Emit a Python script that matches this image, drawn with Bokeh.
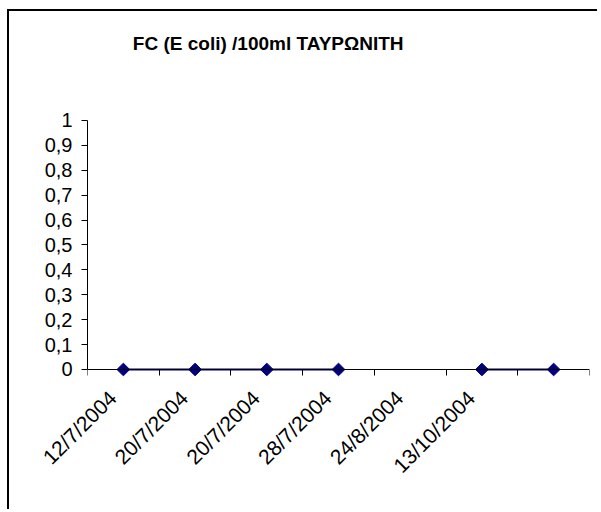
import math
from bokeh.plotting import figure
from bokeh.models import FixedTicker, ColumnDataSource, LinearAxis, Label, InlineStyleSheet
from bokeh.embed import file_html
from bokeh.resources import INLINE

# ---- data ----
title_text = "FC (E coli) /100ml ΤΑΥΡΩΝΙΤΗ"
dates = ["12/7/2004", "20/7/2004", "20/7/2004", "28/7/2004", "24/8/2004", "13/10/2004", ""]
fc_values = [0, 0, 0, 0, None, 0, 0]
y_ticks = [0, 0.1, 0.2, 0.3, 0.4, 0.5, 0.6, 0.7, 0.8, 0.9, 1]
y_tick_labels = ["0", "0,1", "0,2", "0,3", "0,4", "0,5", "0,6", "0,7", "0,8", "0,9", "1"]

n = len(dates)
xs = [i + 0.5 for i in range(n)]
ys = [float("nan") if v is None else v for v in fc_values]
src = ColumnDataSource(dict(x=xs, y=ys))

FONT = "Liberation Sans"

# frame extends above the value axis to hold the chart title
p = figure(width=601, height=512, output_backend="svg", toolbar_location=None,
           x_range=(0, n), y_range=(-0.0442, 1.4819),
           min_border_left=87, min_border_right=12, min_border_top=0, min_border_bottom=132)
p.outline_line_color = None
p.xgrid.visible = False
p.ygrid.visible = False
p.background_fill_color = "white"
p.border_fill_color = "white"

# chart-area border: left edge and top edge (other edges lie outside the window)
p.stylesheets = [InlineStyleSheet(css=(
    ":host { overflow: hidden; }"
    ":host::before { content: ''; position: absolute; left: 7px; top: 9px; width: 2px; height: 500px;"
    " background: #000; pointer-events: none; z-index: 100; }"
    ":host::after { content: ''; position: absolute; left: 7px; top: 9px; width: 590px; height: 2px;"
    " background: #000; pointer-events: none; z-index: 100; }"
))]

p.line("x", "y", source=src, line_color="#000080", line_width=2)
p.scatter("x", "y", source=src, marker="square", angle=math.pi / 4, size=9,
          fill_color="#000080", line_color="#000080")

# title
p.add_layout(Label(x=2.52, y=1.31, text=title_text, text_font=FONT,
                   text_font_size="19px", text_font_style="bold", text_color="black",
                   text_align="center", text_baseline="middle"))

# y axis
ya = p.yaxis[0]
ya.bounds = (0, 1)
ya.ticker = FixedTicker(ticks=y_ticks, minor_ticks=[])
ya.major_label_overrides = {t: l for t, l in zip(y_ticks, y_tick_labels)}
ya.major_tick_out = 6
ya.major_tick_in = 0
ya.axis_line_color = "black"
ya.major_tick_line_color = "black"
ya.major_label_text_font = FONT
ya.major_label_text_font_size = "20px"
ya.major_label_text_color = "black"
ya.major_label_standoff = 9

# x axis (line + category boundary ticks) at y = 0
xa = p.xaxis[0]
xa.fixed_location = 0
xa.ticker = FixedTicker(ticks=[], minor_ticks=list(range(n + 1)))
xa.major_tick_line_color = None
xa.major_label_text_alpha = 0
xa.minor_tick_out = 6
xa.minor_tick_in = 0
xa.minor_tick_line_color = "black"
xa.axis_line_color = "black"

# x labels axis (labels end slightly left of category centre, as in the original)
label_pos = [x - 0.15 for x in xs]
xl = LinearAxis(ticker=FixedTicker(ticks=label_pos, minor_ticks=[]))
xl.major_label_overrides = {x: d for x, d in zip(label_pos, dates)}
xl.axis_line_color = None
xl.major_tick_line_color = None
xl.minor_tick_line_color = None
xl.major_label_orientation = math.pi / 4
xl.major_label_text_font = FONT
xl.major_label_text_font_size = "21px"
xl.major_label_text_color = "black"
xl.major_label_standoff = 8
p.add_layout(xl, "below")

open("out.html", "w").write(file_html(p, INLINE))
